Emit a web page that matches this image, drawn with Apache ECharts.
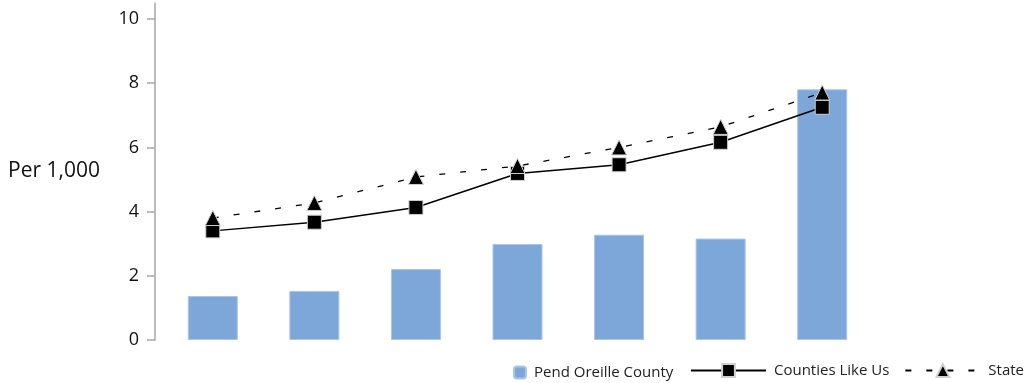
<!DOCTYPE html>
<html>
<head>
<meta charset="utf-8">
<script src="https://cdn.jsdelivr.net/npm/echarts@6/dist/echarts.min.js"></script>
<style>
  html, body { margin: 0; padding: 0; background: #fff; }
  #chart { width: 1025px; height: 383px; }
</style>
</head>
<body>
<div id="chart"></div>
<script>
// data
var categories = ['1', '2', '3', '4', '5', '6', '7'];
var countyValues = [1.37, 1.53, 2.21, 2.99, 3.28, 3.16, 7.81];
var peerValues = [3.40, 3.67, 4.13, 5.19, 5.46, 6.16, 7.25];
var stateValues = [3.80, 4.27, 5.08, 5.42, 6.00, 6.64, 7.71];
var yTicks = [0, 2, 4, 6, 8, 10];

var font = '"Open Sans", "Noto Sans", sans-serif';

var myChart = echarts.init(document.getElementById('chart'));
myChart.setOption({
    backgroundColor: '#fff',
    animation: false,
    grid: {
        left: 162,
        right: 152,
        top: 3,
        bottom: 43
    },
    legend: [{
        left: 508,
        top: 360,
        itemWidth: 12,
        itemHeight: 12,
        itemGap: 15,
        textStyle: { fontFamily: font, fontSize: 15, color: '#222', padding: [0, 0, 0, 3] },
        data: ['Pend Oreille County']
    }, {
        left: 685,
        top: 358,
        width: 500,
        itemWidth: 75,
        itemHeight: 16,
        itemGap: 15,
        textStyle: { fontFamily: font, fontSize: 15, color: '#222', padding: [0, 0, 0, 3] },
        data: ['Counties Like Us', 'State']
    }],
    xAxis: {
        type: 'category',
        data: categories,
        axisLine: { show: false },
        axisTick: { show: false },
        axisLabel: { show: false }
    },
    yAxis: {
        type: 'value',
        min: 0,
        max: 10.5,
        offset: 7,
        name: 'Per 1,000',
        nameLocation: 'middle',
        nameRotate: 0,
        nameGap: 55,
        nameTextStyle: {
            fontFamily: font,
            fontSize: 21,
            color: '#111',
            padding: [24, 0, 0, 0]
        },
        axisLine: { show: true, lineStyle: { color: '#a6a6a6', width: 1.5 } },
        axisTick: {
            show: true,
            length: 8,
            customValues: yTicks,
            lineStyle: { color: '#a6a6a6', width: 1.5 }
        },
        axisLabel: {
            customValues: yTicks,
            fontFamily: font,
            fontSize: 18,
            color: '#111',
            margin: 16
        },
        splitLine: { show: false }
    },
    series: [{
        name: 'Pend Oreille County',
        type: 'bar',
        barWidth: 50,
        itemStyle: {
            color: '#7da7d9',
            borderColor: '#a9c5e8',
            borderWidth: 1
        },
        data: countyValues
    }, {
        name: 'Counties Like Us',
        type: 'line',
        symbol: 'rect',
        symbolSize: 14,
        itemStyle: { color: '#000', borderColor: '#d0d0d0', borderWidth: 1 },
        lineStyle: { color: '#000', width: 1.5 },
        data: peerValues
    }, {
        name: 'State',
        type: 'line',
        symbol: 'triangle',
        symbolSize: 15,
        itemStyle: { color: '#000', borderColor: '#d0d0d0', borderWidth: 1 },
        lineStyle: { color: '#000', width: 1.3, type: [6, 15] },
        data: stateValues
    }]
});
</script>
</body>
</html>
